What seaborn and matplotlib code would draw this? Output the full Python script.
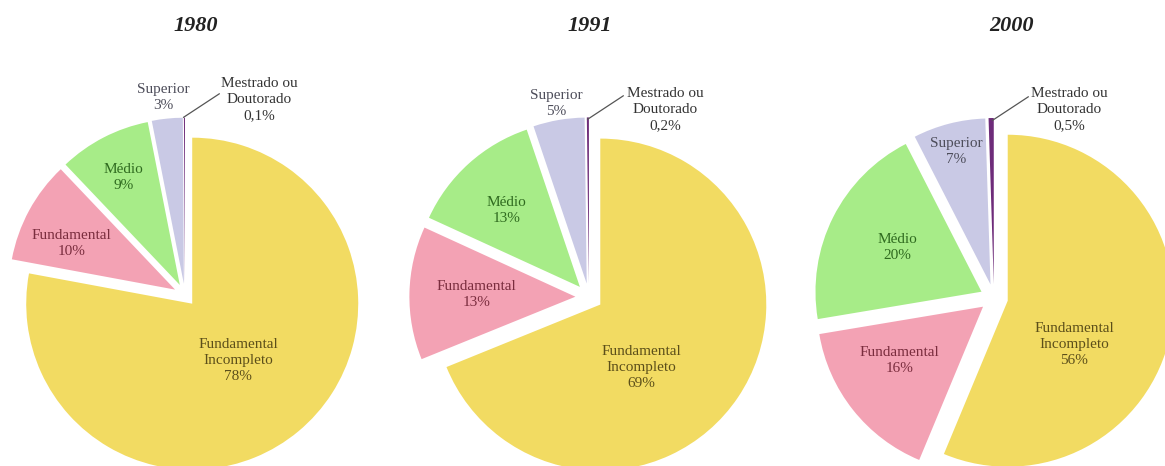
import numpy as np
import matplotlib
matplotlib.use("Agg")
import matplotlib.pyplot as plt
import seaborn as sns

# ---------------- data ----------------
years = ["1980", "1991", "2000"]
categories = ["Fundamental\nIncompleto", "Fundamental", "Médio", "Superior",
              "Mestrado ou\nDoutorado"]
values_1980 = [78, 10, 9, 3, 0.1]
values_1991 = [69, 13, 13, 5, 0.2]
values_2000 = [56, 16, 20, 7, 0.5]
pct_1980 = ["78%", "10%", "9%", "3%", "0,1%"]
pct_1991 = ["69%", "13%", "13%", "5%", "0,2%"]
pct_2000 = ["56%", "16%", "20%", "7%", "0,5%"]

all_values = [values_1980, values_1991, values_2000]
all_pcts = [pct_1980, pct_1991, pct_2000]

# ---------------- style / layout ----------------
sns.set_theme(style="white")
plt.rcParams["font.family"] = ["Liberation Serif", "DejaVu Serif"]

wedge_colors = sns.color_palette(["#F2DB62", "#F3A2B4", "#A7EC88", "#C9C9E5", "#6E2C7A"])
text_colors = ["#5c4f1a", "#7a2d3e", "#2f6a1f", "#4d4d5a", "#333333"]

W, H = 1165, 466
centers_px = [(185, 295), (589, 297), (994, 298)]   # screen coords (y from top)
R = 166
explode_px = [11.3, 13.6, 14.0]
title_px = [(196, 26), (590, 26), (1012, 26)]
# label placement: (distance as fraction of R, angle in degrees) from pie centre
label_polar = [
    [(0.51, -51.2), (0.75, 155.7), (0.80, 117.5), (1.20, 96.3), (1.26, 69.2)],
    [(0.53, -53.3), (0.68, 178.5), (0.72, 133.6), (1.18, 99.7), (1.22, 67.9)],
    [(0.56, -30.1), (0.68, -146.6), (0.66, 152.3), (0.91, 104.6), (1.22, 68.2)],
]
leader_from = (1.07, 90.5)
leader_to = (1.23, 80.3)

fig = plt.figure(figsize=(W / 100, H / 100), dpi=100)
ax = fig.add_axes([0, 0, 1, 1])

def polar(cx, cy, dist, ang):
    a = np.deg2rad(ang)
    return cx + dist * R * np.cos(a), cy + dist * R * np.sin(a)

for i, year in enumerate(years):
    sx, sy = centers_px[i]
    cx, cy = sx, H - sy
    vals = all_values[i]
    ax.pie(vals, colors=wedge_colors, startangle=90, counterclock=False,
           radius=R, center=(cx, cy),
           explode=[explode_px[i]] * len(vals),
           wedgeprops=dict(linewidth=0))
    for j, cat in enumerate(categories):
        d, ang = label_polar[i][j]
        tx, ty = polar(cx, cy, d, ang)
        ax.text(tx, ty, f"{cat}\n{all_pcts[i][j]}", ha="center", va="center",
                fontsize=11, color=text_colors[j], linespacing=1.3)
    x0, y0 = polar(cx, cy, *leader_from)
    x1, y1 = polar(cx, cy, *leader_to)
    ax.plot([x0, x1], [y0, y1], color="#555555", lw=0.9)
    tx, ty = title_px[i]
    ax.text(tx, H - ty, year, ha="center", va="center", fontsize=16,
            fontweight="bold", fontstyle="italic", color="#222222")

ax.set_xlim(0, W)
ax.set_ylim(0, H)
ax.set_aspect("equal")
ax.axis("off")
fig.savefig("out.png", dpi=100, facecolor="white")
